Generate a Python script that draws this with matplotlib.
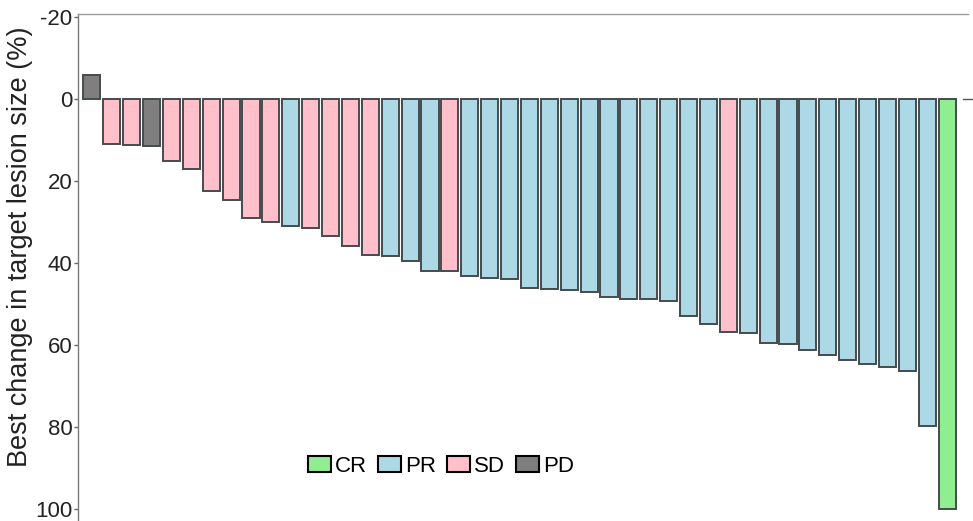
import matplotlib

matplotlib.use("Agg")
import matplotlib.pyplot as plt
from matplotlib.patches import Patch
import numpy as np

# best change in target lesion size (%) per patient, sorted as in the figure
RESPONSE = ["PD", "SD", "SD", "PD", "SD", "SD", "SD", "SD", "SD", "SD",
            "PR", "SD", "SD", "SD", "SD", "PR", "PR", "PR", "SD", "PR",
            "PR", "PR", "PR", "PR", "PR", "PR", "PR", "PR", "PR", "PR",
            "PR", "PR", "SD", "PR", "PR", "PR", "PR", "PR", "PR", "PR",
            "PR", "PR", "PR", "CR"]
CHANGE = [-5.8, 10.9, 11.2, 11.4, 15.0, 17.0, 22.3, 24.5, 29.0, 30.0,
          31.0, 31.4, 33.5, 35.8, 38.0, 38.3, 39.4, 42.0, 42.0, 43.2,
          43.6, 44.0, 46.1, 46.4, 46.6, 47.2, 48.2, 48.7, 48.9, 49.4,
          53.0, 55.0, 56.8, 57.2, 59.5, 59.9, 61.2, 62.5, 63.7, 64.6,
          65.5, 66.3, 79.8, 100.0]
LEGEND_ORDER = ["CR", "PR", "SD", "PD"]
YTICKS = [-20, 0, 20, 40, 60, 80, 100]

COLORS = {"CR": "#90EE90", "PR": "#ADD8E6", "SD": "#FFC0CB", "PD": "#7F7F7F"}

plt.rcParams["axes.unicode_minus"] = False
NARROW = ["Liberation Sans Narrow", "Liberation Sans", "DejaVu Sans"]

fig = plt.figure(figsize=(9.73, 5.21), dpi=100)
ax = fig.add_axes([78 / 973, 0.0, 890 / 973, 507 / 521])

x = np.arange(len(CHANGE))
ax.bar(x, CHANGE, width=0.86, color=[COLORS[r] for r in RESPONSE],
       edgecolor="#454B4E", linewidth=1.4)

ax.set_xlim(-0.7, 44.05)
ax.set_ylim(103, -20.8)
ax.set_yticks(YTICKS)
ax.set_yticklabels([str(t) for t in YTICKS], fontsize=16, family=NARROW,
                   color="#222222", va="center_baseline")
ax.tick_params(axis="y", direction="out", length=3, width=1, color="#666666", pad=1)
ax.set_xticks([])

for s in ("right", "bottom"):
    ax.spines[s].set_visible(False)
ax.spines["left"].set_color("#7A7A7A")
ax.spines["top"].set_color("#9A9A9A")
ax.spines["left"].set_linewidth(1.0)
ax.spines["top"].set_linewidth(1.0)

# small tick at zero on the right-hand side
ax.plot([43.8, 44.35], [0, 0], color="#555555", lw=1, clip_on=False)

ax.set_ylabel("Best change in target lesion size (%)", fontsize=19.5,
              family=["Liberation Sans", "DejaVu Sans"], color="#222222")
ax.yaxis.set_label_coords(-0.05, 0.54)

handles = [Patch(facecolor=COLORS[k], edgecolor="black", linewidth=1.5, label=k)
           for k in LEGEND_ORDER]
ax.legend(handles=handles, loc="center", bbox_to_anchor=(0.408, 0.108), ncol=4,
          frameon=False, handlelength=1.03, handleheight=0.72, handletextpad=0.18,
          columnspacing=0.5, prop={"family": NARROW, "size": 16})

fig.savefig("out.png", dpi=100)
